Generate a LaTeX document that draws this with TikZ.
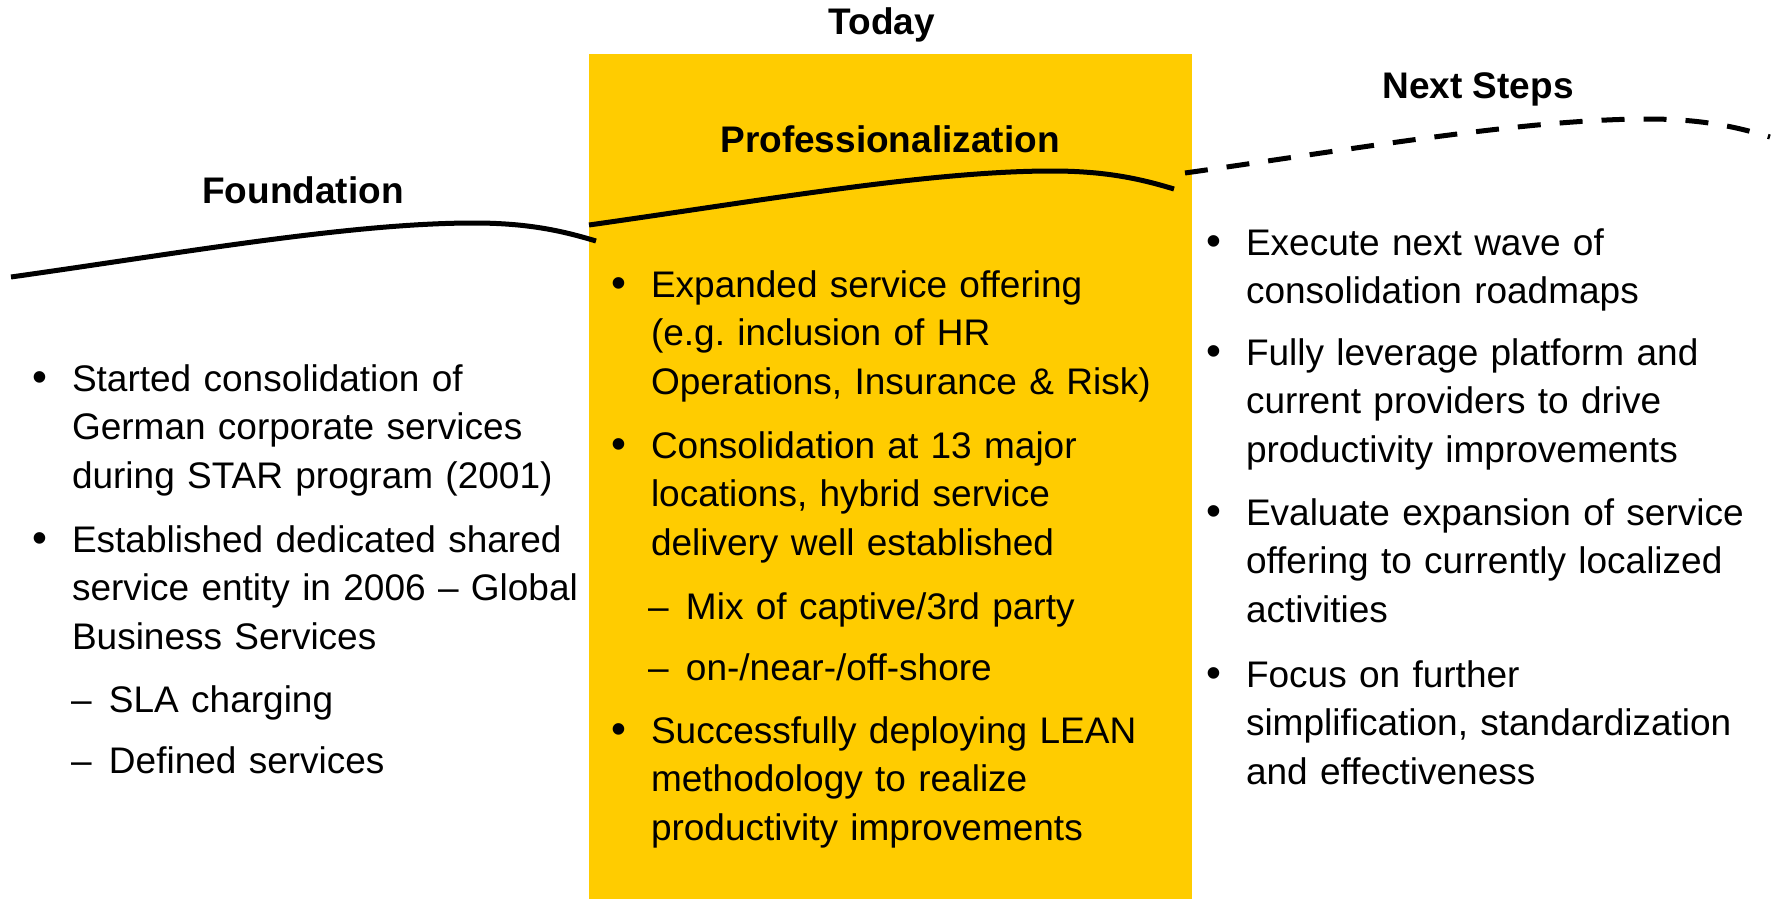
\documentclass[tikz,border=0pt]{standalone}
\usepackage{fontspec}
\setmainfont{Liberation Sans}
\definecolor{gbsyellow}{HTML}{FFCC00}
% hanging bullet and dash markers placed left of the text start
\newcommand\itembullet{\llap{\scalebox{1.15}{\textbullet}\hspace{25pt}}}
\newcommand\subdash{\llap{\textendash\hspace{17.4pt}}}
\begin{document}
\frenchspacing
\begin{tikzpicture}[x=1pt,y=-1pt,
  every node/.style={inner sep=0pt, outer sep=0pt},
  heading/.style={font=\fontsize{37}{44}\selectfont\bfseries, anchor=base},
  itemtext/.style={font=\fontsize{37}{48.7}\selectfont, anchor=base west, align=left},
  waveline/.style={line width=5pt, black},
  wavedash/.style={waveline, dash pattern=on 23pt off 19pt},
  wave/.pic={\path[pic actions] (0,0) .. controls (170,-24) and (340,-54) .. (463,-54)
                 .. controls (520,-54) and (555,-45) .. (585,-36);}
]
\useasboundingbox[fill=white] (0,0) rectangle (1773,899);

% highlighted current phase
\node[fill=gbsyellow, minimum width=603pt, minimum height=845pt, anchor=north west]
  (todaybox) at (589,54) {};

% phase curves
\pic[draw, waveline] at (11,277) {wave};
\pic[draw, waveline] at (589,225) {wave};
\pic[draw, wavedash] at (1185,173) {wave};

% headings
\node[heading] (today) at (882,35) {Today};
\node[heading] (foundation) at (303,203) {Foundation};
\node[heading] (prof) at (890,152) {Professionalization};
\node[heading] (next) at (1478,99) {Next Steps};

% Foundation
\node[itemtext, text width=510pt] (f1) at (72,391)
  {\itembullet Started consolidation of\\German corporate services\\during STAR program (2001)};
\node[itemtext, text width=510pt] (f2) at (72,552)
  {\itembullet Established dedicated shared\\service entity in 2006 – Global\\Business Services};
\node[itemtext, text width=470pt] (f2a) at (109,712) {\subdash SLA charging};
\node[itemtext, text width=470pt] (f2b) at (109,773) {\subdash Defined services};

% Professionalization
\node[itemtext, text width=530pt] (p1) at (651,297)
  {\itembullet Expanded service offering\\(e.g. inclusion of HR\\Operations, Insurance \& Risk)};
\node[itemtext, text width=530pt] (p2) at (651,458)
  {\itembullet Consolidation at 13 major\\locations, hybrid service\\delivery well established};
\node[itemtext, text width=495pt] (p2a) at (686,619) {\subdash Mix of captive/3rd party};
\node[itemtext, text width=495pt] (p2b) at (686,680) {\subdash on-/near-/off-shore};
\node[itemtext, text width=530pt] (p3) at (651,743)
  {\itembullet Successfully deploying LEAN\\methodology to realize\\productivity improvements};

% Next Steps
\node[itemtext, text width=520pt] (n1) at (1246,255)
  {\itembullet Execute next wave of\\consolidation roadmaps};
\node[itemtext, text width=520pt] (n2) at (1246,365)
  {\itembullet Fully leverage platform and\\current providers to drive\\productivity improvements};
\node[itemtext, text width=520pt] (n3) at (1246,525)
  {\itembullet Evaluate expansion of service\\offering to currently localized\\activities};
\node[itemtext, text width=520pt] (n4) at (1246,687)
  {\itembullet Focus on further\\simplification, standardization\\and effectiveness};
\end{tikzpicture}
\end{document}
